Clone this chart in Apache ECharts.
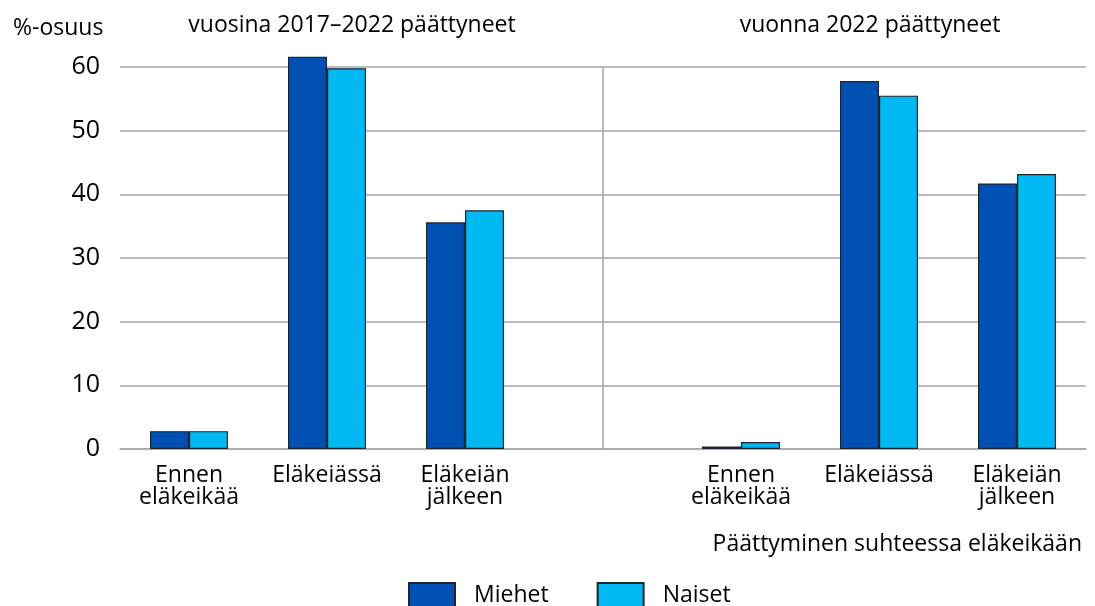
<!DOCTYPE html>
<html>
<head>
<meta charset="utf-8">
<script src="https://cdn.jsdelivr.net/npm/echarts@6/dist/echarts.min.js"></script>
<style>
  html, body { margin: 0; padding: 0; background: #fff; }
  #chart { width: 1095px; height: 606px; }
</style>
</head>
<body>
<div id="chart"></div>
<script>
var chart = echarts.init(document.getElementById('chart'));

// slot 3 is the empty gap between the two periods
const categories = ['Ennen\neläkeikää', 'Eläkeiässä', 'Eläkeiän\njälkeen', '', 'Ennen\neläkeikää', 'Eläkeiässä', 'Eläkeiän\njälkeen'];
const miehet = [2.8, 61.6, 35.6, null, 0.4, 57.8, 41.7];
const naiset = [2.8, 59.8, 37.5, null, 1.1, 55.5, 43.2];
const yTicks = [0, 10, 20, 30, 40, 50, 60];
const groupTitles = ['vuosina 2017–2022 päättyneet', 'vuonna 2022 päättyneet'];

const font = '"Open Sans", sans-serif';
const gridCol = '#a6a6a6';
const txt = { fontSize: 23, fontWeight: 'normal', fontFamily: font, color: '#000' };

var option = {
  animation: false,
  textStyle: { fontFamily: font, color: '#000' },
  grid: { left: 120, right: 9, top: 67, bottom: 157 },
  title: [
    { text: '%-osuus', left: 8, top: 12, textStyle: txt },
    { text: groupTitles[0], left: 347, top: 9, textAlign: 'center', textStyle: txt },
    { text: groupTitles[1], left: 865, top: 9, textAlign: 'center', textStyle: txt },
    { text: 'Päättyminen suhteessa eläkeikään', right: 8, top: 528, textStyle: txt }
  ],
  legend: {
    top: 577,
    left: 403,
    itemWidth: 46,
    itemHeight: 24,
    itemGap: 48,
    icon: 'rect',
    textStyle: { fontSize: 23, fontFamily: font, color: '#000', padding: [0, 0, 0, 14] },
    data: ['Miehet', 'Naiset']
  },
  xAxis: {
    type: 'category',
    data: categories,
    axisLine: { lineStyle: { color: gridCol, width: 1.5 } },
    axisTick: { show: false },
    axisLabel: { fontSize: 23, color: '#000', lineHeight: 22, margin: 15, interval: 0 }
  },
  yAxis: {
    type: 'value',
    min: yTicks[0],
    max: yTicks[yTicks.length - 1],
    interval: 10,
    axisLine: { show: false },
    axisTick: { show: false },
    axisLabel: { fontSize: 25, color: '#000', margin: 20 },
    splitLine: { lineStyle: { color: gridCol, width: 1.5 } }
  },
  series: [
    {
      name: 'Miehet',
      type: 'bar',
      data: miehet,
      barWidth: 39,
      barGap: '0%',
      clip: false,
      itemStyle: { color: '#0050b4', borderColor: '#1c2633', borderWidth: 1.2 }
    },
    {
      name: 'Naiset',
      type: 'bar',
      data: naiset,
      barWidth: 39,
      clip: false,
      itemStyle: { color: '#00b9f2', borderColor: '#1c2633', borderWidth: 1.2 }
    },
    {
      // carries only the separator between the two periods
      name: 'erotin',
      type: 'line',
      data: [],
      markLine: {
        silent: true,
        symbol: 'none',
        label: { show: false },
        lineStyle: { color: gridCol, width: 1.5, type: 'solid' },
        data: [{ xAxis: 3 }]
      }
    }
  ]
};

chart.setOption(option);
</script>
</body>
</html>
